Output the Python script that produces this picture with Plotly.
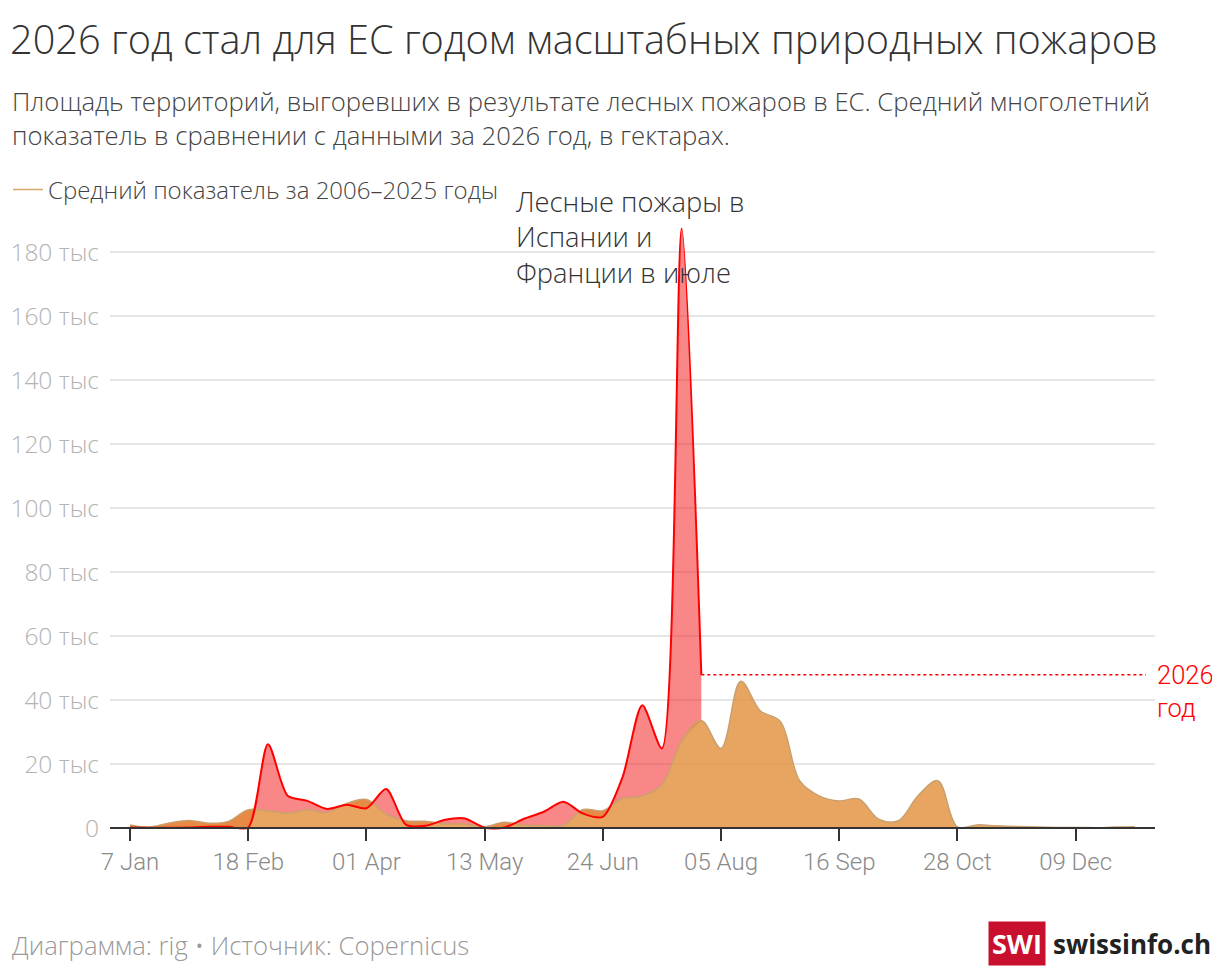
import pandas as pd
import plotly.graph_objects as go

# weekly burnt area in the EU, hectares
weeks = pd.date_range("2026-01-07", periods=52, freq="7D")

avg_2006_2025 = [
    1100, 400, 1700, 2500, 1600, 2200, 5800, 5500, 4800, 5800,
    5000, 7800, 9000, 4500, 2400, 2200, 1400, 1400, 500, 1900,
    1000, 900, 1000, 5900, 5500, 9400, 10100, 13700, 27300, 33700,
    25000, 46000, 36700, 33500, 14800, 10100, 8600, 9200, 2900, 2400,
    10200, 14900, 500, 1100, 800, 600, 400, 300, 300, 200,
    400, 500,
]

year_2026 = [
    300, 200, 200, 300, 500, 500, 300, 26300, 10200, 8600,
    6100, 7400, 6300, 12300, 1200, 800, 2700, 3100, 200, 300,
    3000, 5200, 8300, 4600, 3600, 16000, 38500, 25000, 187500, 48000,
]

tick_dates = pd.date_range("2026-01-07", periods=9, freq="42D")
tick_labels = ["7 Jan", "18 Feb", "01 Apr", "13 May", "24 Jun",
               "05 Aug", "16 Sep", "28 Oct", "09 Dec"]

y_ticks = list(range(0, 180001, 20000))
y_labels = ["0"] + [f"{v // 1000} тыс" for v in y_ticks[1:]]

# layout geometry (page body adds an 8px margin)
W, H = 1212, 970
ML, MR, MT, MB = 102, 65, 205.6, 140.4
Y_RANGE = [-3000, 192000]
X_RANGE = ["2025-12-30 21:00", "2027-01-06 05:00"]

PINK = "rgba(245,15,15,0.5)"
ORANGE_FILL = "rgba(225,139,52,0.775)"
ORANGE_LINE = "#c9a06e"
RED = "#ff0000"
SMOOTH_AVG = 1.0
SMOOTH_2026 = 0.75


def px(x):
    return (x - ML) / (W - ML - MR)


def py(y):
    return (H - MB - y) / (H - MT - MB)


n26 = len(year_2026)
fig = go.Figure()

# band between the average and 2026 (drawn first, orange lies on top)
fig.add_trace(go.Scatter(
    x=weeks[:n26], y=avg_2006_2025[:n26], mode="lines",
    line=dict(color="rgba(0,0,0,0)", width=0, shape="spline", smoothing=SMOOTH_AVG),
    showlegend=False, hoverinfo="skip",
))
fig.add_trace(go.Scatter(
    x=weeks[:n26], y=year_2026, mode="lines", fill="tonexty",
    line=dict(color="rgba(0,0,0,0)", width=0, shape="spline", smoothing=SMOOTH_2026),
    fillcolor=PINK, showlegend=False, hoverinfo="skip",
))
fig.add_trace(go.Scatter(
    x=weeks, y=avg_2006_2025, mode="lines", fill="tozeroy",
    line=dict(color=ORANGE_LINE, width=1.5, shape="spline", smoothing=SMOOTH_AVG),
    fillcolor=ORANGE_FILL, showlegend=False,
))
fig.add_trace(go.Scatter(
    x=weeks[:n26], y=year_2026, mode="lines",
    line=dict(color=RED, width=2, shape="spline", smoothing=SMOOTH_2026),
    showlegend=False,
))
fig.add_trace(go.Scatter(
    x=[weeks[n26 - 1], pd.Timestamp("2027-01-03")],
    y=[year_2026[-1], year_2026[-1]], mode="lines",
    line=dict(color=RED, width=1.5, dash="3px,3px"),
    showlegend=False, hoverinfo="skip",
))
# legend entry
fig.add_trace(go.Scatter(
    x=[None], y=[None], mode="lines",
    line=dict(color="#d9a66c", width=1.5),
    name="Средний показатель за 2006–2025 годы",
))

fig.update_layout(
    width=W, height=H,
    margin=dict(l=ML, r=MR, t=MT, b=MB, autoexpand=False),
    paper_bgcolor="white", plot_bgcolor="white",
    font=dict(family="Open Sans", color="#333"),
    title=dict(
        text="2026 год стал для ЕС годом масштабных природных пожаров",
        xref="container", x=2 / W, xanchor="left",
        yref="container", y=1 - 32 / H, yanchor="middle",
        font=dict(family="Open Sans", size=39.7, weight=300, color="#333"),
    ),
    legend=dict(
        xref="container", x=0, xanchor="left",
        yref="container", y=1 - 182 / H, yanchor="middle",
        orientation="h", itemwidth=30,
        font=dict(family="Open Sans", size=24, weight=300, color="#444"),
        bgcolor="rgba(0,0,0,0)",
    ),
    xaxis=dict(
        type="date", range=X_RANGE, automargin=False,
        tickvals=tick_dates, ticktext=tick_labels,
        anchor="free", position=-Y_RANGE[0] / (Y_RANGE[1] - Y_RANGE[0]),
        showline=True, linecolor="#333", linewidth=2,
        ticks="outside", ticklen=12, tickwidth=2, tickcolor="#333",
        showgrid=False,
        tickfont=dict(family="Roboto", size=24, weight=300, color="#8a8a8a"),
    ),
    yaxis=dict(
        range=Y_RANGE, tickvals=y_ticks, ticktext=y_labels, automargin=False,
        showgrid=True, gridcolor="#e6e6e6", gridwidth=1.5,
        zeroline=False, showline=False, ticks="", ticklabelstandoff=10,
        tickfont=dict(family="Open Sans", size=24.5, weight=300, color="#b3b3b3"),
    ),
)

subtitle = [
    "Площадь территорий, выгоревших в результате лесных пожаров в ЕС. Средний многолетний",
    "показатель в сравнении с данными за 2026 год, в гектарах.",
]
for i, line in enumerate(subtitle):
    fig.add_annotation(
        text=line, xref="paper", yref="paper", x=px(2), y=py(93 + 34 * i),
        xanchor="left", yanchor="middle", align="left", showarrow=False,
        font=dict(family="Open Sans", size=25.7, weight=300, color="#444"),
    )

fig.add_annotation(
    text="Лесные пожары в<br>Испании и<br>Франции в июле",
    xref="x", yref="paper", x=pd.Timestamp("2026-05-23"), y=py(173),
    xanchor="left", yanchor="top", align="left", showarrow=False,
    font=dict(family="Open Sans", size=27.3, weight=300, color="#333"),
)

fig.add_annotation(
    text="2026<br>год", xref="paper", yref="y", x=1.0, y=year_2026[-1],
    xanchor="left", yanchor="top", yshift=17, align="left", showarrow=False,
    font=dict(family="Roboto", size=25.5, weight=300, color=RED),
)

fig.add_annotation(
    text="Диаграмма: rig • Источник: Copernicus",
    xref="paper", yref="paper", x=px(2), y=py(937),
    xanchor="left", yanchor="middle", align="left", showarrow=False,
    font=dict(family="Open Sans", size=25.7, weight=300, color="#9a9a9a"),
)

fig.add_annotation(
    text="<b>SWI</b>", xref="paper", yref="paper", x=px(1009), y=py(935),
    xanchor="center", yanchor="middle", showarrow=False,
    bgcolor="#c8102e", borderpad=3,
    font=dict(family="Open Sans", size=27, color="white"),
)
fig.add_annotation(
    text="<b>swissinfo.ch</b>", xref="paper", yref="paper", x=px(1043), y=py(936),
    xanchor="left", yanchor="middle", align="left", showarrow=False,
    font=dict(family="Open Sans", size=26, color="#222"),
)

fig.write_html("out.html")
